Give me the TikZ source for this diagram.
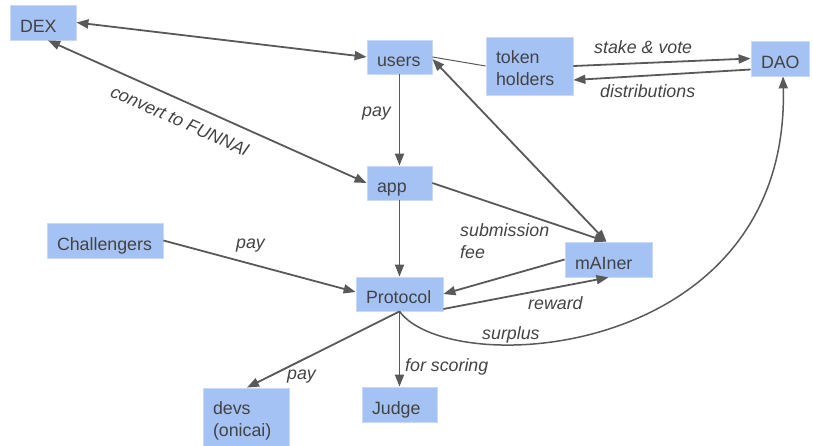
\documentclass[tikz,border=0pt]{standalone}
\usepackage{fontspec}
\setmainfont{Liberation Sans}
\usetikzlibrary{arrows.meta}
\definecolor{boxfill}{HTML}{A4C2F4}
\definecolor{boxedge}{HTML}{C9DAF8}
\definecolor{ink}{HTML}{434343}
\definecolor{wire}{HTML}{595959}
\tikzset{
  box/.style={fill=boxfill, draw=boxedge, line width=0.8pt, text=ink, align=left,
    inner xsep=10pt, inner ysep=0pt, font=\fontsize{17.8}{22}\selectfont,
    text height=19pt, text depth=0pt},
  twoline/.style={text height=16pt, text depth=22pt},
  tip/.tip={Triangle[length=12pt,width=9pt]},
  flow/.style={draw=wire, line width=1.8pt, -tip},
  both/.style={draw=wire, line width=1.8pt, tip-tip},
  plain/.style={draw=wire, line width=1pt},
  lbl/.style={text=ink, font=\fontsize{17.8}{22}\selectfont\itshape, inner sep=0pt, anchor=base west},
}
\begin{document}
\begin{tikzpicture}[x=1pt, y=-1pt]
\useasboundingbox (0,0) rectangle (813,445);

% boxes
\node[box, minimum width=66pt, minimum height=35pt, text width=46pt] (dex) at (43,22.5) {DEX};
\node[box, minimum width=65pt, minimum height=34pt, text width=45pt] (users) at (399.5,57) {users};
\node[box, twoline, minimum width=87pt, minimum height=58pt, text width=67pt] (holders) at (529.5,66) {token\\holders};
\node[box, minimum width=58pt, minimum height=35pt, text width=38pt] (dao) at (780,58.5) {DAO};
\node[box, minimum width=65pt, minimum height=34pt, text width=45pt] (app) at (399.5,183) {app};
\node[box, minimum width=116pt, minimum height=35pt, text width=96pt] (chal) at (105,240.5) {Challengers};
\node[box, minimum width=87pt, minimum height=34pt, text width=67pt] (proto) at (399.5,294) {Protocol};
\node[box, minimum width=87pt, minimum height=35pt, text width=67pt] (miner) at (608.5,259.5) {mAIner};
\node[box, twoline, minimum width=86pt, minimum height=58pt, text width=66pt] (devs) at (246,417) {devs\\(onicai)};
\node[box, minimum width=75pt, minimum height=35pt, text width=55pt] (judge) at (399.5,404.5) {Judge};

% connectors
\draw[both] (dex.east) -- (users.west);
\draw[both] ([xshift=5pt]dex.south) -- (app.west);
\draw[flow] (users.south) -- (app.north);
\draw[plain] (users.east) -- (holders.west);
\draw[flow] (holders.east) -- (dao.west);
\draw[flow] ([yshift=-11pt]dao.west) -- ([yshift=-14pt]holders.east);
\draw[both] ([yshift=-2pt]users.east) -- ([xshift=-2pt]miner.north);
\draw[flow] (app.east) -- ([xshift=-2pt]miner.north);
\draw[flow] (app.south) -- (proto.north);
\draw[flow] (chal.east) -- ([yshift=2pt]proto.west);
\draw[flow] (miner.west) -- (proto.east);
\draw[flow] ([yshift=-15pt]proto.east) -- (miner.south);
\draw[flow, line width=1.5pt] (proto.south) .. controls +(50.5,69) and +(7,284) .. ([xshift=3pt]dao.south);
\draw[flow] (proto.south) -- ([xshift=1pt]devs.north);
\draw[flow] (proto.south) -- (judge.north);

% connector labels
\node[text=ink, font=\fontsize{17.8}{22}\selectfont\itshape, inner sep=0pt, rotate=-24] (lconv) at (180,121) {convert to FUNNAI};
\node[lbl] (lpay1) at (362,116.5) {pay};
\node[lbl] (lstake) at (594,53.5) {stake \& vote};
\node[lbl] (ldist) at (600,97) {distributions};
\node[lbl] (lpay2) at (236,248) {pay};
\node[lbl, align=left] (lsub) at (460,258.5) {submission\\fee};
\node[lbl] (lrew) at (528,309.5) {reward};
\node[lbl] (lsur) at (482,339.5) {surplus};
\node[lbl] (lscore) at (405,371) {for scoring};
\node[lbl] (lpay3) at (287,379.5) {pay};
\end{tikzpicture}
\end{document}
